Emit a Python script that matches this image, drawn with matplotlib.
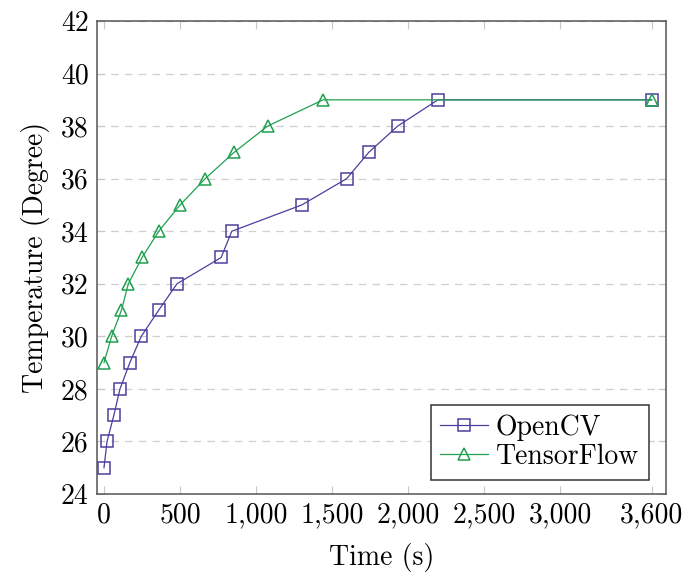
import numpy as np
import matplotlib
matplotlib.use("Agg")
import matplotlib.pyplot as plt

plt.rcParams['font.family'] = ['cmr10', 'DejaVu Serif']
plt.rcParams['mathtext.fontset'] = 'cm'
plt.rcParams['axes.unicode_minus'] = False

# OpenCV readings
opencv_time = [0, 20, 65, 105, 170, 245, 360, 480, 770, 840, 1300, 1595, 1740, 1930, 2195, 3600]
opencv_temp = [25, 26, 27, 28, 29, 30, 31, 32, 33, 34, 35, 36, 37, 38, 39, 39]

# TensorFlow readings
tf_time = [0, 50, 115, 160, 250, 360, 500, 665, 855, 1075, 1440, 3600]
tf_temp = [29, 30, 31, 32, 33, 34, 35, 36, 37, 38, 39, 39]

xticks = [0, 500, 1000, 1500, 2000, 2500, 3000, 3600]
xticklabels = ["0", "500", "1,000", "1,500", "2,000", "2,500", "3,000", "3,600"]
yticks = list(range(24, 43, 2))

purple = "#4f3d9c"
green = "#20a050"

fig = plt.figure(figsize=(6.86, 5.76), dpi=100)
ax = fig.add_axes([97/686, 1 - 494/576, (666 - 97)/686, (494 - 21)/576])

ax.plot(opencv_time, opencv_temp, color=purple, lw=0.9, marker='s', ms=8.5,
        mfc='none', mec=purple, mew=1.1, label="OpenCV")
ax.plot(tf_time, tf_temp, color=green, lw=0.9, marker='^', ms=8,
        mfc='none', mec=green, mew=1.1, label="TensorFlow")

ax.set_xlim(-46, 3694)
ax.set_ylim(24, 42)
ax.set_xticks(xticks)
ax.set_xticklabels(xticklabels)
ax.set_yticks(yticks)
ax.tick_params(direction='in', length=6, width=0.8, color='#c8c8c8',
               top=True, right=True, labelsize=20, pad=6)
ax.yaxis.grid(True, linestyle=(0, (6, 5)), color='#cfcfcf', lw=0.9)
ax.set_axisbelow(True)
for s in ax.spines.values():
    s.set_color('#555555')
    s.set_linewidth(1.1)

ax.set_xlabel("Time (s)", fontsize=20, labelpad=10)
ax.set_ylabel("Temperature (Degree)", fontsize=20, labelpad=8)

leg = ax.legend(loc='lower right', bbox_to_anchor=(0.97, 0.03), borderaxespad=0,
                fontsize=20, fancybox=False, framealpha=1, edgecolor='#333333',
                handlelength=1.7, handletextpad=0.3, borderpad=0.35, labelspacing=0.1)
leg.get_frame().set_linewidth(1.1)

fig.savefig("out.png", dpi=100)
